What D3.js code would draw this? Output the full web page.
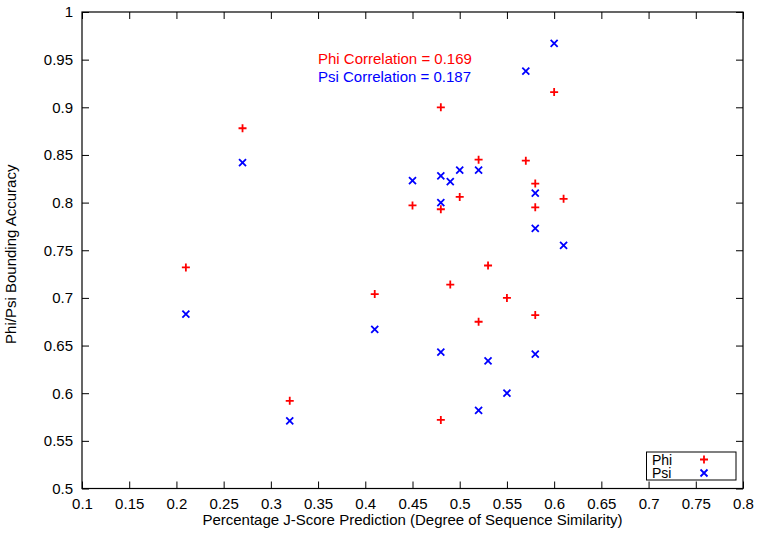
<!DOCTYPE html>
<html>
<head>
<meta charset="utf-8">
<script src="https://cdn.jsdelivr.net/npm/d3@7"></script>
<style>
  body { margin: 0; background: #fff; }
  svg text { font-family: "Liberation Sans", Arial, sans-serif; }
</style>
</head>
<body>
<svg id="chart" width="761" height="540"></svg>
<script>
// J-score similarity for each target, with phi / psi bounding accuracy
const similarity = [0.21, 0.27, 0.32, 0.41, 0.45, 0.48, 0.48, 0.48, 0.49, 0.50,
                    0.52, 0.52, 0.53, 0.55, 0.57, 0.58, 0.58, 0.58, 0.60, 0.61];
const phiAcc = [0.732, 0.878, 0.592, 0.704, 0.797, 0.900, 0.793, 0.572, 0.714, 0.806,
                0.845, 0.675, 0.734, 0.700, 0.844, 0.820, 0.795, 0.682, 0.916, 0.804];
const psiAcc = [0.683, 0.842, 0.571, 0.667, 0.823, 0.828, 0.800, 0.643, 0.822, 0.834,
                0.834, 0.582, 0.634, 0.600, 0.938, 0.810, 0.773, 0.641, 0.967, 0.755];
const xTicks = [0.1, 0.15, 0.2, 0.25, 0.3, 0.35, 0.4, 0.45, 0.5, 0.55, 0.6, 0.65, 0.7, 0.75, 0.8];
const yTicks = [0.5, 0.55, 0.6, 0.65, 0.7, 0.75, 0.8, 0.85, 0.9, 0.95, 1];
const correlations = [["Phi Correlation = 0.169", "#ff0000"], ["Psi Correlation = 0.187", "#0000ff"]];

const svg = d3.select("#chart");
const mLeft = 82, mRight = 743, mTop = 12, mBottom = 488.5;

const x = d3.scaleLinear().domain([0.1, 0.8]).range([mLeft, mRight]);
const y = d3.scaleLinear().domain([0.5, 1]).range([mBottom, mTop]);
const fmt = d => String(+d.toFixed(2));

// ticks on all four sides, pointing inward
svg.append("g").attr("transform", `translate(0,${mBottom})`)
  .call(d3.axisBottom(x).tickValues(xTicks).tickFormat(fmt).tickSizeInner(-7).tickSizeOuter(0).tickPadding(10));
svg.append("g").attr("transform", `translate(0,${mTop})`)
  .call(d3.axisTop(x).tickValues(xTicks).tickFormat("").tickSizeInner(-7).tickSizeOuter(0));
svg.append("g").attr("transform", `translate(${mLeft},0)`)
  .call(d3.axisLeft(y).tickValues(yTicks).tickFormat(fmt).tickSizeInner(-7).tickSizeOuter(0).tickPadding(9));
svg.append("g").attr("transform", `translate(${mRight},0)`)
  .call(d3.axisRight(y).tickValues(yTicks).tickFormat("").tickSizeInner(-7).tickSizeOuter(0));

svg.selectAll(".domain").remove();
svg.selectAll(".tick line").attr("stroke", "#000").attr("stroke-width", 1);
svg.selectAll(".tick text").attr("font-size", 15).attr("fill", "#000")
  .attr("font-family", "Liberation Sans, Arial, sans-serif");

svg.append("rect")
  .attr("x", mLeft).attr("y", mTop)
  .attr("width", mRight - mLeft).attr("height", mBottom - mTop)
  .attr("fill", "none").attr("stroke", "#000").attr("stroke-width", 1.2);

// axis titles
svg.append("text")
  .attr("x", (mLeft + mRight) / 2).attr("y", 525)
  .attr("text-anchor", "middle").attr("font-size", 15)
  .text("Percentage J-Score Prediction (Degree of Sequence Similarity)");
svg.append("text")
  .attr("transform", `translate(16,${(mTop + mBottom) / 2 + 4}) rotate(-90)`)
  .attr("text-anchor", "middle").attr("font-size", 15)
  .text("Phi/Psi Bounding Accuracy");

// markers
const plus = (g, cx, cy) => g.append("path")
  .attr("d", `M${cx - 4},${cy}H${cx + 4}M${cx},${cy - 4}V${cy + 4}`)
  .attr("stroke", "#ff0000").attr("stroke-width", 1.8).attr("fill", "none");
const cross = (g, cx, cy) => g.append("path")
  .attr("d", `M${cx - 3.5},${cy - 3.5}L${cx + 3.5},${cy + 3.5}M${cx - 3.5},${cy + 3.5}L${cx + 3.5},${cy - 3.5}`)
  .attr("stroke", "#0000ff").attr("stroke-width", 1.8).attr("fill", "none");

const pts = svg.append("g");
similarity.forEach((s, i) => plus(pts, x(s), y(phiAcc[i])));
similarity.forEach((s, i) => cross(pts, x(s), y(psiAcc[i])));

// correlation notes
correlations.forEach(([t, c], i) => {
  svg.append("text").attr("x", 318).attr("y", 64 + i * 18)
    .attr("font-size", 15).attr("fill", c).text(t);
});

// legend
const lg = svg.append("g");
lg.append("rect").attr("x", 646.5).attr("y", 452).attr("width", 89.5).attr("height", 28)
  .attr("fill", "#fff").attr("stroke", "#000").attr("stroke-width", 1);
lg.append("text").attr("x", 652).attr("y", 464.5).attr("font-size", 14).text("Phi");
lg.append("text").attr("x", 652).attr("y", 478).attr("font-size", 14).text("Psi");
plus(lg, 704, 459.5);
cross(lg, 704, 473);
</script>
</body>
</html>
